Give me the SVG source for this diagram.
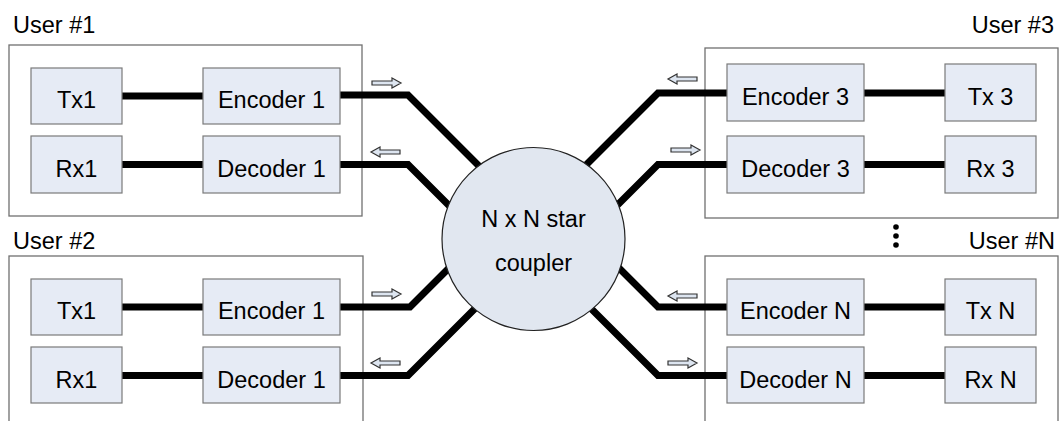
<svg xmlns="http://www.w3.org/2000/svg" width="1059" height="421" viewBox="0 0 1059 421">
  <style>
    text { font-family: "Liberation Sans", Arial, sans-serif; font-size: 23.5px; fill: #000; }
    .user { fill: #fff; stroke: #707070; stroke-width: 1.3; }
    .blk { fill: #e6ebf5; stroke: #7a7a7a; stroke-width: 1.2; }
    .mid { text-anchor: middle; }
    .end { text-anchor: end; }
    .fiber { fill: none; stroke: #000; stroke-width: 7; stroke-linejoin: miter; }
    .dir { fill: #dde5f0; stroke: #333; stroke-width: 1.2; }
  </style>
  <defs>
    <!-- small hollow arrow showing signal direction, pointing right -->
    <path id="dirArrow" class="dir" d="M0,-2 H20 V-5 L29,0 L20,5 V2 H0 Z"/>
  </defs>
  <rect width="1059" height="421" fill="#fff"/>

  <!-- user enclosures -->
  <g id="user1">
    <rect class="user" x="9" y="45" width="353" height="171"/>
    <text x="13" y="33">User #1</text>
  </g>
  <g id="user2">
    <rect class="user" x="9" y="256" width="354" height="200"/>
    <text x="13" y="249">User #2</text>
  </g>
  <g id="user3">
    <rect class="user" x="705" y="48" width="353" height="170"/>
    <text class="end" x="1054" y="33">User #3</text>
  </g>
  <g id="userN">
    <rect class="user" x="705" y="256" width="353" height="200"/>
    <text class="end" x="1055" y="249">User #N</text>
    <circle cx="896" cy="227" r="2.8" fill="#000"/>
    <circle cx="896" cy="236" r="2.8" fill="#000"/>
    <circle cx="896" cy="245" r="2.8" fill="#000"/>
  </g>

  <!-- fibres -->
  <g id="connectors">
    <!-- inside the user boxes -->
    <path class="fiber" d="M122,96 H203"/>
    <path class="fiber" d="M122,164.5 H203"/>
    <path class="fiber" d="M122,307 H203"/>
    <path class="fiber" d="M122,375.5 H203"/>
    <path class="fiber" d="M864,93 H945"/>
    <path class="fiber" d="M864,164.5 H945"/>
    <path class="fiber" d="M864,307 H945"/>
    <path class="fiber" d="M864,375.5 H945"/>
    <!-- to the star coupler -->
    <path class="fiber" d="M340,95 H408 L492,179"/>
    <path class="fiber" d="M340,164.5 H408 L462,218.5"/>
    <path class="fiber" d="M340,307 H410 L460,257"/>
    <path class="fiber" d="M340,375.5 H408 L488,295.5"/>
    <path class="fiber" d="M727,93 H658 L576,175"/>
    <path class="fiber" d="M727,164.5 H658 L606,216.5"/>
    <path class="fiber" d="M727,307 H658 L607,256"/>
    <path class="fiber" d="M727,375.5 H658 L580,297.5"/>
  </g>

  <!-- direction arrows -->
  <g id="directions">
    <use href="#dirArrow" transform="translate(372,83)"/>
    <use href="#dirArrow" transform="translate(400,152) scale(-1,1)"/>
    <use href="#dirArrow" transform="translate(372,294)"/>
    <use href="#dirArrow" transform="translate(400,363) scale(-1,1)"/>
    <use href="#dirArrow" transform="translate(697,79) scale(-1,1)"/>
    <use href="#dirArrow" transform="translate(671,150)"/>
    <use href="#dirArrow" transform="translate(697,296) scale(-1,1)"/>
    <use href="#dirArrow" transform="translate(668,363)"/>
  </g>

  <!-- blocks -->
  <g id="tx1a"><rect class="blk" x="31" y="68" width="91" height="56"/><text class="mid" x="76.5" y="107.5">Tx1</text></g>
  <g id="enc1a"><rect class="blk" x="203" y="68" width="137" height="56"/><text class="mid" x="271.5" y="107.5">Encoder 1</text></g>
  <g id="rx1a"><rect class="blk" x="31" y="136" width="91" height="57"/><text class="mid" x="76.5" y="176.5">Rx1</text></g>
  <g id="dec1a"><rect class="blk" x="203" y="136" width="137" height="57"/><text class="mid" x="271.5" y="176.5">Decoder 1</text></g>

  <g id="tx1b"><rect class="blk" x="31" y="279" width="91" height="56"/><text class="mid" x="76.5" y="319">Tx1</text></g>
  <g id="enc1b"><rect class="blk" x="203" y="279" width="137" height="56"/><text class="mid" x="271.5" y="319">Encoder 1</text></g>
  <g id="rx1b"><rect class="blk" x="31" y="347" width="91" height="56"/><text class="mid" x="76.5" y="387.5">Rx1</text></g>
  <g id="dec1b"><rect class="blk" x="203" y="347" width="137" height="56"/><text class="mid" x="271.5" y="387.5">Decoder 1</text></g>

  <g id="enc3"><rect class="blk" x="727" y="64" width="137" height="57"/><text class="mid" x="795.5" y="105">Encoder 3</text></g>
  <g id="tx3"><rect class="blk" x="945" y="64" width="91" height="57"/><text class="mid" x="990.5" y="105">Tx 3</text></g>
  <g id="dec3"><rect class="blk" x="727" y="136" width="137" height="57"/><text class="mid" x="795.5" y="176.5">Decoder 3</text></g>
  <g id="rx3"><rect class="blk" x="945" y="136" width="91" height="57"/><text class="mid" x="990.5" y="176.5">Rx 3</text></g>

  <g id="encN"><rect class="blk" x="727" y="279" width="137" height="56"/><text class="mid" x="795.5" y="319">Encoder N</text></g>
  <g id="txN"><rect class="blk" x="945" y="279" width="91" height="56"/><text class="mid" x="990.5" y="319">Tx N</text></g>
  <g id="decN"><rect class="blk" x="727" y="347" width="137" height="56"/><text class="mid" x="795.5" y="387.5">Decoder N</text></g>
  <g id="rxN"><rect class="blk" x="945" y="347" width="91" height="56"/><text class="mid" x="990.5" y="387.5">Rx N</text></g>

  <!-- star coupler -->
  <g id="coupler">
    <circle cx="533.5" cy="239" r="91.5" fill="#e1e7f0" stroke="#222" stroke-width="1.2"/>
    <text class="mid" x="533.5" y="227">N x N star</text>
    <text class="mid" x="533.5" y="271">coupler</text>
  </g>
</svg>
